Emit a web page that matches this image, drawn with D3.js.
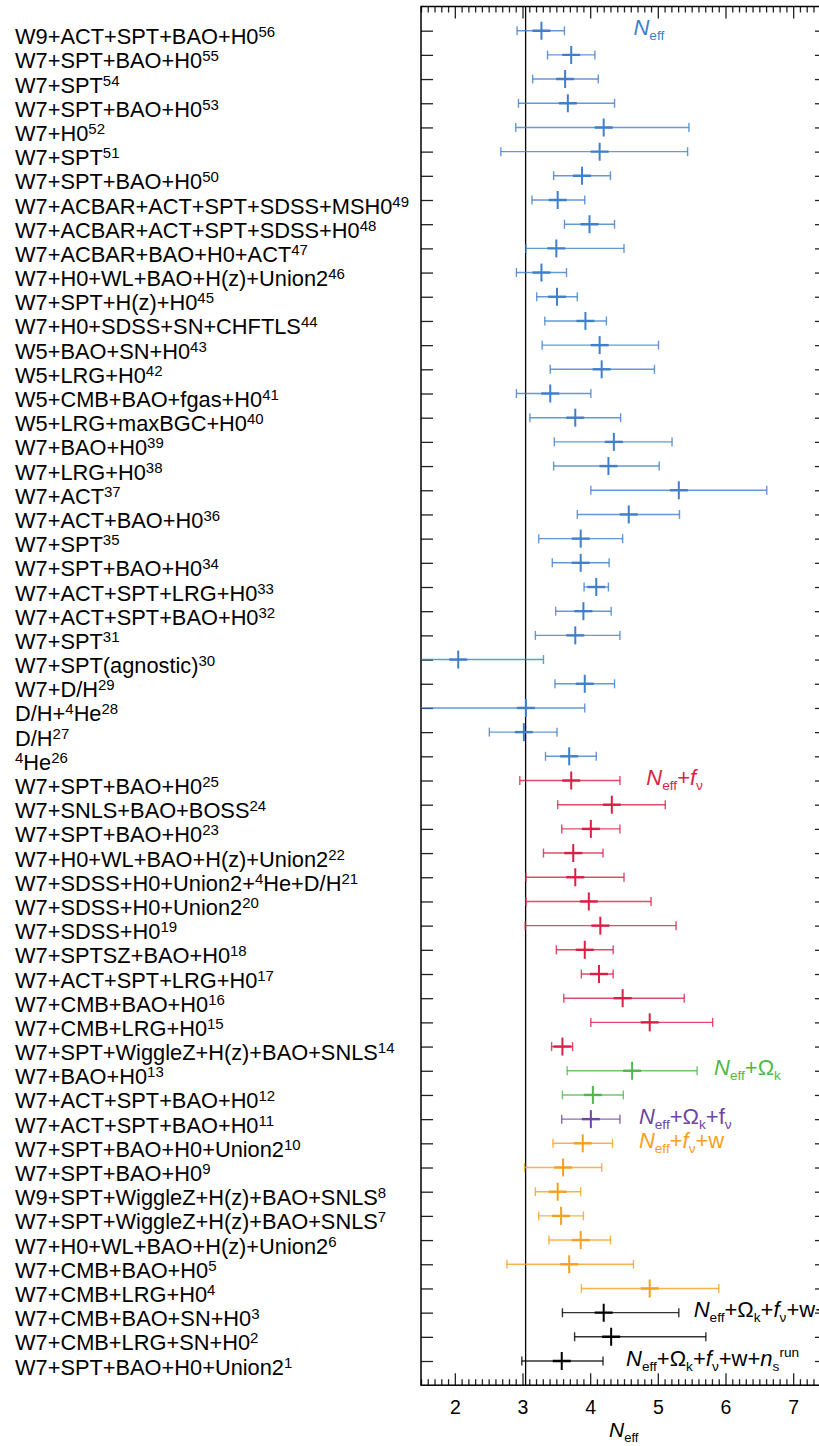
<!DOCTYPE html>
<html>
<head>
<meta charset="utf-8">
<script src="https://cdn.jsdelivr.net/npm/d3@7"></script>
<style>
  body { margin: 0; background: #fff; }
  text { font-family: "Liberation Sans", Arial, Helvetica, sans-serif; }
</style>
</head>
<body>
<div id="wrapper"></div>
<script>
// rows listed top to bottom, "^4" marks an inline superscript
const rowLabels = [
  "W9+ACT+SPT+BAO+H0", "W7+SPT+BAO+H0", "W7+SPT", "W7+SPT+BAO+H0", "W7+H0", "W7+SPT",
  "W7+SPT+BAO+H0", "W7+ACBAR+ACT+SPT+SDSS+MSH0", "W7+ACBAR+ACT+SPT+SDSS+H0",
  "W7+ACBAR+BAO+H0+ACT", "W7+H0+WL+BAO+H(z)+Union2", "W7+SPT+H(z)+H0", "W7+H0+SDSS+SN+CHFTLS",
  "W5+BAO+SN+H0", "W5+LRG+H0", "W5+CMB+BAO+fgas+H0", "W5+LRG+maxBGC+H0", "W7+BAO+H0",
  "W7+LRG+H0", "W7+ACT", "W7+ACT+BAO+H0", "W7+SPT", "W7+SPT+BAO+H0", "W7+ACT+SPT+LRG+H0",
  "W7+ACT+SPT+BAO+H0", "W7+SPT", "W7+SPT(agnostic)", "W7+D/H", "D/H+^4He", "D/H", "^4He",
  "W7+SPT+BAO+H0", "W7+SNLS+BAO+BOSS", "W7+SPT+BAO+H0", "W7+H0+WL+BAO+H(z)+Union2",
  "W7+SDSS+H0+Union2+^4He+D/H", "W7+SDSS+H0+Union2", "W7+SDSS+H0", "W7+SPTSZ+BAO+H0",
  "W7+ACT+SPT+LRG+H0", "W7+CMB+BAO+H0", "W7+CMB+LRG+H0", "W7+SPT+WiggleZ+H(z)+BAO+SNLS",
  "W7+BAO+H0", "W7+ACT+SPT+BAO+H0", "W7+ACT+SPT+BAO+H0", "W7+SPT+BAO+H0+Union2",
  "W7+SPT+BAO+H0", "W9+SPT+WiggleZ+H(z)+BAO+SNLS", "W7+SPT+WiggleZ+H(z)+BAO+SNLS",
  "W7+H0+WL+BAO+H(z)+Union2", "W7+CMB+BAO+H0", "W7+CMB+LRG+H0", "W7+CMB+BAO+SN+H0",
  "W7+CMB+LRG+SN+H0", "W7+SPT+BAO+H0+Union2"
] ;
const refNumbers = d3.range(56, 0, -1) ;

const centerValues = [
  3.28, 3.72, 3.63, 3.67, 4.20, 4.14, 3.88, 3.52, 3.99, 3.50, 3.28, 3.51, 3.93, 4.14,
  4.17, 3.41, 3.78, 4.35, 4.27, 5.31, 4.57, 3.86, 3.86, 4.09, 3.90, 3.78, 2.05, 3.92,
  3.05, 3.02, 3.69, 3.72, 4.32, 4.01, 3.75, 3.78, 3.98, 4.15, 3.92, 4.13, 4.48, 4.88,
  3.59, 4.62, 4.04, 4.01, 3.89, 3.60, 3.52, 3.57, 3.86, 3.69, 4.88, 4.20, 4.31, 3.58
] ;
const lowerValues = [
  2.92, 3.37, 3.15, 2.94, 2.90, 2.68, 3.46, 3.14, 3.62, 3.05, 2.91, 3.21, 3.33, 3.29,
  3.41, 2.91, 3.11, 3.47, 3.46, 4.01, 3.81, 3.24, 3.44, 3.91, 3.49, 3.19, 0.80, 3.48,
  1.20, 2.51, 3.34, 2.96, 3.52, 3.58, 3.31, 3.05, 3.05, 3.04, 3.50, 3.87, 3.61, 4.01,
  3.43, 3.66, 3.59, 3.58, 3.45, 3.03, 3.19, 3.24, 3.39, 2.77, 3.87, 3.59, 3.77, 2.99
] ;
const upperValues = [
  3.62, 4.07, 4.12, 4.36, 5.46, 5.44, 4.30, 3.92, 4.36, 4.50, 3.65, 3.81, 4.24, 5.01,
  4.95, 4.01, 4.45, 5.21, 5.02, 6.61, 5.32, 4.48, 4.28, 4.27, 4.31, 4.44, 3.31, 4.36,
  3.92, 3.51, 4.09, 4.44, 5.11, 4.44, 4.19, 4.50, 4.90, 5.27, 4.34, 4.34, 5.39, 5.81,
  3.74, 5.58, 4.49, 4.44, 4.33, 4.17, 3.86, 3.90, 4.30, 4.64, 5.90, 5.31, 5.71, 4.19
] ;
// model group of each row: 0 Neff, 1 Neff+fv, 2 Neff+Ok, 3 Neff+Ok+fv, 4 Neff+fv+w, 5 all
const rowGroups = [
  0, 0, 0, 0, 0, 0, 0, 0, 0, 0, 0, 0, 0, 0, 0, 0, 0, 0, 0, 0, 0, 0, 0, 0, 0, 0, 0, 0, 0, 0, 0,
  1, 1, 1, 1, 1, 1, 1, 1, 1, 1, 1, 1,
  2, 2,
  3,
  4, 4, 4, 4, 4, 4, 4,
  5, 5, 5
] ;
const groupColors = ["#3f7fcc", "#dc1e46", "#4fb848", "#6e45a0", "#f7a020", "#000000"] ;

const xTickValues = [2, 3, 4, 5, 6, 7] ;
const neffStandard = 3.046 ;

// annotation per group: [group, x value, row]
const groupNoteAnchors = [[0, 4.64, 56], [1, 4.83, 25], [2, 5.83, 13], [3, 4.72, 11], [4, 4.72, 10], [5, 5.53, 3], [5, 4.53, 1]] ;
const groupNoteTexts = [
  [["N", "i"], ["eff", "sub"]],
  [["N", "i"], ["eff", "sub"], ["+"], ["f", "i"], ["ν", "sub"]],
  [["N", "i"], ["eff", "sub"], ["+Ω"], ["k", "sub"]],
  [["N", "i"], ["eff", "sub"], ["+Ω"], ["k", "sub"], ["+f"], ["ν", "sub"]],
  [["N", "i"], ["eff", "sub"], ["+"], ["f", "i"], ["ν", "sub"], ["+w"]],
  [["N", "i"], ["eff", "sub"], ["+Ω"], ["k", "sub"], ["+"], ["f", "i"], ["ν", "sub"], ["+w+"]],
  [["N", "i"], ["eff", "sub"], ["+Ω"], ["k", "sub"], ["+"], ["f", "i"], ["ν", "sub"], ["+w+"], ["n", "i"], ["s", "sub"], ["run", "supAfterSub"]]
] ;

const rows = rowLabels.map((label, i) => ({
  label: label,
  ref: refNumbers[i],
  row: refNumbers[i],
  center: centerValues[i],
  lower: lowerValues[i],
  upper: upperValues[i],
  group: rowGroups[i]
})) ;

function drawChart() {
  let dimensions = {
    width: 819,
    height: 1446,
    margin: { top: 6.5, right: -8, bottom: 60.8, left: 421 }
  } ;
  dimensions.boundedWidth = dimensions.width - dimensions.margin.left - dimensions.margin.right ;
  dimensions.boundedHeight = dimensions.height - dimensions.margin.top - dimensions.margin.bottom ;

  const svg = d3.select("#wrapper").append("svg")
    .attr("width", dimensions.width)
    .attr("height", dimensions.height)
  ;
  const bounds = svg.append("g")
    .attr("transform", `translate(${dimensions.margin.left}, ${dimensions.margin.top})`)
  ;

  const xScale = d3.scaleLinear()
    .domain([1.5, 7.5])
    .range([0, dimensions.boundedWidth])
  ;
  const yScale = d3.scaleLinear()
    .domain([57, 0])
    .range([0, dimensions.boundedHeight])
  ;

  svg.append("defs").append("clipPath").attr("id", "plotclip")
    .append("rect")
      .attr("width", dimensions.boundedWidth)
      .attr("height", dimensions.boundedHeight)
  ;

  // axes: major and minor ticks pointing inward on all sides
  const minorTicks = d3.range(15, 76).map((d) => d / 10).filter((d) => !xTickValues.includes(d)) ;
  const bottomMinor = bounds.append("g")
    .attr("transform", `translate(0, ${dimensions.boundedHeight})`)
    .call(d3.axisBottom(xScale).tickValues(minorTicks).tickSize(-6).tickFormat(""))
  ;
  const bottomMajor = bounds.append("g")
    .attr("transform", `translate(0, ${dimensions.boundedHeight})`)
    .call(d3.axisBottom(xScale).tickValues(xTickValues).tickSize(-12).tickPadding(15).tickFormat(d3.format("d")))
  ;
  bottomMajor.selectAll("text").attr("font-size", 19.5).attr("fill", "#000") ;
  const topMinor = bounds.append("g")
    .call(d3.axisTop(xScale).tickValues(minorTicks).tickSize(-6).tickFormat(""))
  ;
  const topMajor = bounds.append("g")
    .call(d3.axisTop(xScale).tickValues(xTickValues).tickSize(-12).tickFormat(""))
  ;
  const rowTicks = d3.range(1, 57) ;
  const leftAxis = bounds.append("g")
    .call(d3.axisLeft(yScale).tickValues(rowTicks).tickSize(-12).tickFormat(""))
  ;
  const rightAxis = bounds.append("g")
    .attr("transform", `translate(${dimensions.boundedWidth}, 0)`)
    .call(d3.axisRight(yScale).tickValues(rowTicks).tickSize(-12).tickFormat(""))
  ;
  bounds.selectAll(".domain").remove() ;
  bounds.selectAll(".tick line").attr("stroke", "#222").attr("stroke-width", 1.3) ;

  bounds.append("rect")
    .attr("width", dimensions.boundedWidth)
    .attr("height", dimensions.boundedHeight)
    .attr("fill", "none")
    .attr("stroke", "#000")
    .attr("stroke-width", 1.5)
  ;

  // reference line
  bounds.append("line")
    .attr("x1", xScale(neffStandard))
    .attr("x2", xScale(neffStandard))
    .attr("y1", 0)
    .attr("y2", dimensions.boundedHeight)
    .attr("stroke", "#000")
    .attr("stroke-width", 1.3)
  ;

  // error bars
  const bars = bounds.append("g").attr("clip-path", "url(#plotclip)")
    .selectAll("g")
    .data(rows)
    .enter().append("g")
      .attr("stroke", (d) => groupColors[d.group])
  ;
  bars.append("line")
    .attr("x1", (d) => xScale(d.lower))
    .attr("x2", (d) => xScale(d.upper))
    .attr("y1", (d) => yScale(d.row))
    .attr("y2", (d) => yScale(d.row))
    .attr("stroke-width", 1.4)
    .attr("stroke-opacity", 0.8)
  ;
  bars.selectAll(".cap")
    .data((d) => [[d.lower, d.row], [d.upper, d.row]])
    .enter().append("line")
      .attr("class", "cap")
      .attr("x1", (d) => xScale(d[0]))
      .attr("x2", (d) => xScale(d[0]))
      .attr("y1", (d) => yScale(d[1]) - 4.5)
      .attr("y2", (d) => yScale(d[1]) + 4.5)
      .attr("stroke-width", 1.4)
      .attr("stroke-opacity", 0.8)
  ;
  bars.append("line")
    .attr("x1", (d) => xScale(d.center) - 9)
    .attr("x2", (d) => xScale(d.center) + 9)
    .attr("y1", (d) => yScale(d.row))
    .attr("y2", (d) => yScale(d.row))
    .attr("stroke-width", 2.4)
  ;
  bars.append("line")
    .attr("x1", (d) => xScale(d.center))
    .attr("x2", (d) => xScale(d.center))
    .attr("y1", (d) => yScale(d.row) - 9)
    .attr("y2", (d) => yScale(d.row) + 9)
    .attr("stroke-width", 2)
  ;

  // row labels on the left
  const labels = svg.append("g")
    .selectAll("text")
    .data(rows)
    .enter().append("text")
      .attr("x", 15)
      .attr("y", (d) => dimensions.margin.top + yScale(d.row) + 13.5)
      .attr("font-size", 21.8)
      .attr("fill", "#000")
  ;
  labels.each(function(d) {
    const t = d3.select(this) ;
    const parts = d.label.split(/\^(\d)/) ;
    let raised = false ;
    parts.forEach((p, i) => {
      if (p === "") return ;
      if (i % 2 == 1) {
        t.append("tspan").attr("font-size", 15).attr("dy", -7).text(p) ;
        raised = true ;
      } else {
        const s = t.append("tspan").text(p) ;
        if (raised) { s.attr("dy", 7) ; raised = false ; }
      }
    }) ;
    t.append("tspan").attr("font-size", 15).attr("dy", raised ? 0 : -7).text(d.ref) ;
  }) ;

  // rich text helper for N_eff style labels
  function richText(sel, segments, size) {
    let shift = 0 ;
    segments.forEach((seg) => {
      const kind = seg[1] ;
      const s = sel.append("tspan").text(seg[0]) ;
      let target = 0 ;
      if (kind == "i") s.attr("font-style", "italic") ;
      if (kind == "sub") { s.attr("font-size", size * 0.62) ; target = 5 ; }
      if (kind == "supAfterSub") { s.attr("font-size", size * 0.62) ; target = -9 ; }
      if (target != shift) { s.attr("dy", target - shift) ; shift = target ; }
    }) ;
  }

  groupNoteAnchors.forEach((a, i) => {
    const t = bounds.append("text")
      .attr("x", xScale(a[1]))
      .attr("y", yScale(a[2]) + 4.5)
      .attr("font-size", 22)
      .attr("fill", groupColors[a[0]])
    ;
    richText(t, groupNoteTexts[i], 22) ;
  }) ;

  // x axis title
  const xTitle = svg.append("text")
    .attr("x", 609)
    .attr("y", 1437)
    .attr("font-size", 21)
    .attr("fill", "#000")
  ;
  richText(xTitle, [["N", "i"], ["eff", "sub"]], 21) ;
}

drawChart() ;
</script>
</body>
</html>
